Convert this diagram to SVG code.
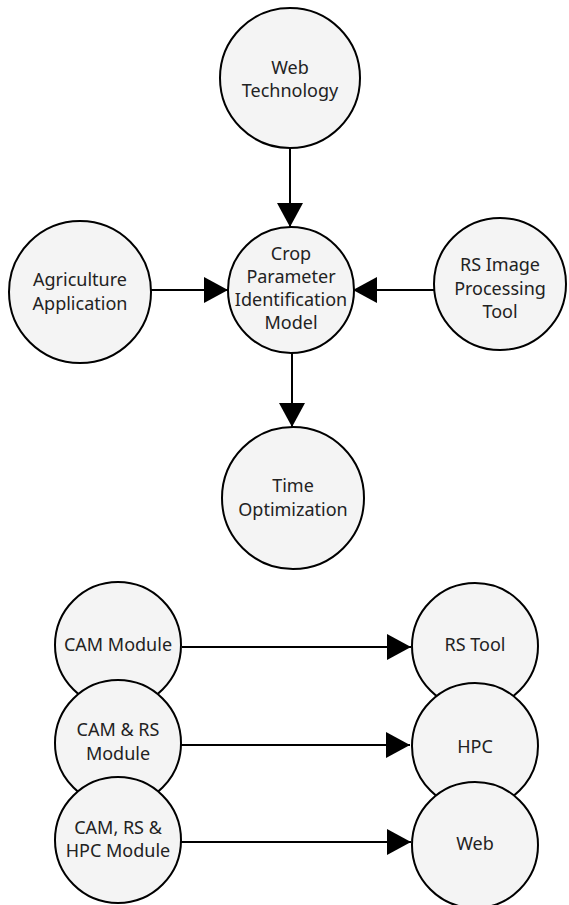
<svg xmlns="http://www.w3.org/2000/svg" width="569" height="905" viewBox="0 0 569 905">
<style>
.node circle{fill:#f4f4f4;stroke:#000;stroke-width:2}
.node text{font-family:"Noto Sans","Liberation Sans",sans-serif;font-size:18px;fill:#222;text-anchor:middle}
.conn line{stroke:#000;stroke-width:2;marker-end:url(#arr)}
</style>
<defs>
<marker id="arr" markerUnits="userSpaceOnUse" markerWidth="24" markerHeight="26" refX="24" refY="13" orient="auto">
<path d="M0,0 L24,13 L0,26 z" fill="#000"/>
</marker>
</defs>
<rect width="569" height="905" fill="#fff"/>
<g id="connectors" class="conn">
<line x1="290" y1="148" x2="290" y2="227"/>
<line x1="292" y1="352" x2="292" y2="427"/>
<line x1="151" y1="290" x2="228" y2="290"/>
<line x1="434" y1="290" x2="353" y2="290"/>
<line x1="182" y1="647" x2="411" y2="647"/>
<line x1="181" y1="745" x2="410" y2="745"/>
<line x1="181" y1="842" x2="411" y2="842"/>
</g>
<g id="web-technology" class="node">
<circle cx="290" cy="78" r="70"/>
<text x="290" y="74">Web</text>
<text x="290" y="97">Technology</text>
</g>
<g id="crop-model" class="node">
<circle cx="291" cy="290" r="63"/>
<text x="291" y="260">Crop</text>
<text x="291" y="283">Parameter</text>
<text x="291" y="306">Identification</text>
<text x="291" y="329">Model</text>
</g>
<g id="agriculture" class="node">
<circle cx="80" cy="292" r="71"/>
<text x="80" y="286">Agriculture</text>
<text x="80" y="310">Application</text>
</g>
<g id="rs-image" class="node">
<circle cx="500" cy="284" r="66"/>
<text x="500" y="271">RS Image</text>
<text x="500" y="295">Processing</text>
<text x="500" y="318">Tool</text>
</g>
<g id="time-opt" class="node">
<circle cx="293" cy="498" r="71"/>
<text x="293" y="492">Time</text>
<text x="293" y="516">Optimization</text>
</g>
<g id="cam-module" class="node">
<circle cx="118" cy="645" r="63"/>
<text x="118" y="651">CAM Module</text>
</g>
<g id="cam-rs-module" class="node">
<circle cx="118" cy="743" r="63"/>
<text x="118" y="736">CAM &amp; RS</text>
<text x="118" y="760">Module</text>
</g>
<g id="cam-rs-hpc-module" class="node">
<circle cx="118" cy="840" r="63"/>
<text x="118" y="834">CAM, RS &amp;</text>
<text x="118" y="857">HPC Module</text>
</g>
<g id="rs-tool" class="node">
<circle cx="475" cy="646" r="63"/>
<text x="475" y="651">RS Tool</text>
</g>
<g id="hpc" class="node">
<circle cx="475" cy="746" r="63"/>
<text x="475" y="753">HPC</text>
</g>
<g id="web" class="node">
<circle cx="475" cy="845" r="63"/>
<text x="475" y="850">Web</text>
</g>
</svg>
